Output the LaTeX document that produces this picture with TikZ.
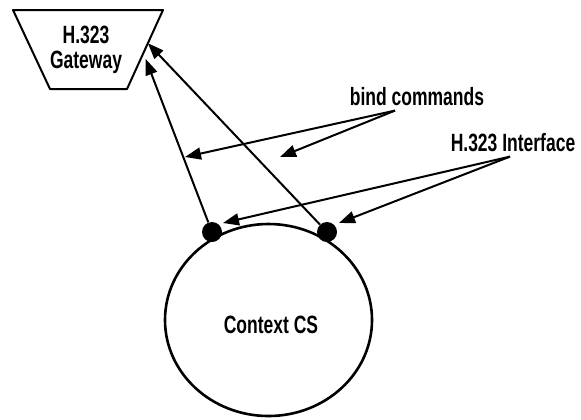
\documentclass[tikz,border=0pt]{standalone}
\usepackage{fontspec}
\setmainfont{Liberation Sans}[FakeStretch=0.7]
\usetikzlibrary{arrows.meta, positioning, calc, shapes.geometric}

\begin{document}
\begin{tikzpicture}[
			x=0.5pt, y=-0.5pt,
			>={Triangle[length=8pt, width=6pt]},
			lbl/.style = {font=\fontsize{12.5}{12.5}\selectfont\bfseries, align=center, inner sep=1pt},
			edge/.style = {line width=1pt},
			port/.style = {circle, fill=black, minimum size=10pt, inner sep=0pt},
			ctxshape/.style = {draw, ellipse, line width=1.3pt, minimum width=103.5pt, minimum height=96pt}
			]
			
			\useasboundingbox (0,0) rectangle (581,419);
			
			% Gateway trapezoid
			\coordinate (gtl) at (13,10);
			\coordinate (gtr) at (163,10);
			\coordinate (gbr) at (127,89);
			\coordinate (gbl) at (50,89);
			\draw [edge, line join=round] (gtl) -- (gtr) -- (gbr) -- (gbl) -- cycle;
			\node [lbl] (gw) at (86,50) {H.323\\Gateway};
			
			% Context
			\node [ctxshape] (ctx) at (268.5,320) {};
			\node [lbl] (ctxlbl) at (271,325) {Context CS};
			
			% Interfaces
			\node [port] (ifl) at (212,232) {};
			\node [port] (ifr) at (327,232) {};
			
			%% ── Bind lines ───────────────────────────────────────────────
			\coordinate (gwa) at ($(gtr)!0.42!(gbr)$);
			\coordinate (gwb) at ($(gtr)!0.62!(gbr)$);
			\draw [->, edge] (ifr) -- (gwa);
			\draw [->, edge] (ifl) -- ($(gwb)+(5,0)$);
			
			%% ── Callouts ─────────────────────────────────────────────────
			\node [lbl] (bind) at (417,97) {bind commands};
			\node [lbl] (iface) at (513,143) {H.323 Interface};
			
			\coordinate (bindfrom) at ($(bind.south)+(-22,2)$);
			\coordinate (bindl) at (185,157);
			\coordinate (bindr) at (280,157);
			\draw [->, edge] (bindfrom) -- (bindl);
			\draw [->, edge] (bindfrom) -- (bindr);
			
			\coordinate (ifacefrom) at ($(iface.south)+(-3,2)$);
			\coordinate (iflt) at (223,223);
			\coordinate (ifrt) at (339,223);
			\draw [->, edge] (ifacefrom) -- (iflt);
			\draw [->, edge] (ifacefrom) -- (ifrt);
			
		\end{tikzpicture}
\end{document}
